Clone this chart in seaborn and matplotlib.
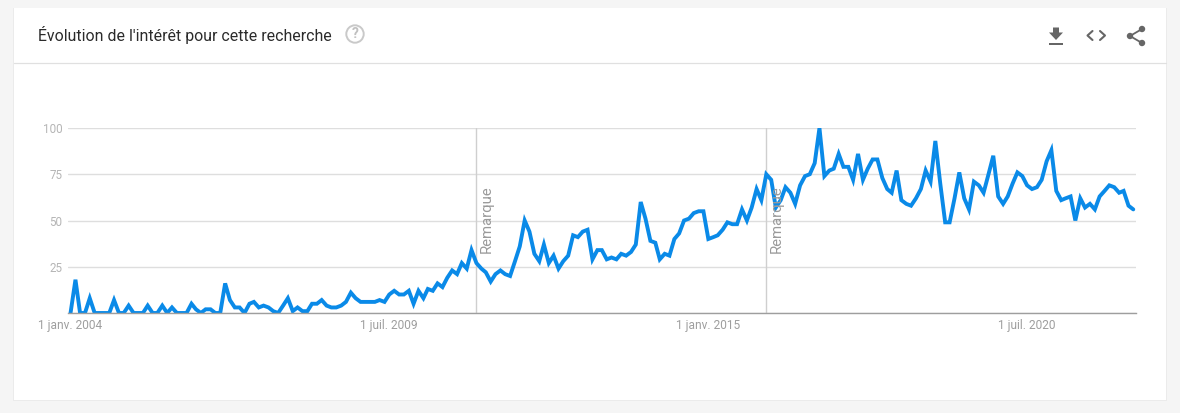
import pandas as pd
import matplotlib.pyplot as plt
import matplotlib.patches as mpatches
from matplotlib.transforms import offset_copy
import seaborn as sns

title = "Évolution de l'intérêt pour cette recherche"
interest = [
    0, 18, 0, 0, 8, 0, 0, 0, 0, 7, 0, 0,
    4, 0, 0, 0, 4, 0, 0, 4, 0, 3, 0, 0,
    0, 5, 2, 0, 2, 2, 0, 0, 16, 7, 3, 3,
    0, 5, 6, 3, 4, 3, 1, 0, 4, 8, 1, 3,
    1, 1, 5, 5, 7, 4, 3, 3, 4, 6, 11, 8,
    6, 6, 6, 6, 7, 6, 10, 12, 10, 10, 12, 5,
    12, 8, 13, 12, 16, 14, 19, 23, 21, 27, 24, 34,
    27, 24, 22, 17, 21, 23, 21, 20, 28, 36, 50, 44,
    32, 28, 37, 27, 31, 24, 28, 31, 42, 41, 44, 45,
    29, 34, 34, 29, 30, 29, 32, 31, 33, 37, 60, 51,
    39, 38, 29, 32, 31, 40, 43, 50, 51, 54, 55, 55,
    40, 41, 42, 45, 49, 48, 48, 56, 50, 57, 67, 61,
    75, 72, 57, 61, 68, 65, 59, 69, 74, 75, 81, 100,
    74, 77, 78, 86, 79, 79, 72, 86, 72, 78, 83, 83,
    73, 67, 65, 77, 61, 59, 58, 62, 67, 77, 71, 93,
    70, 49, 49, 62, 76, 62, 56, 71, 69, 65, 75, 85,
    63, 59, 63, 70, 76, 74, 69, 67, 68, 72, 82, 88,
    66, 61, 62, 63, 50, 62, 57, 59, 56, 63, 66, 69,
    68, 65, 66, 58, 56,
]
y_ticks = [0, 25, 50, 75, 100]
y_labels = ['', '25', '50', '75', '100']
x_ticks = ['2004-01-01', '2009-07-01', '2015-01-01', '2020-07-01']
x_labels = ['1 janv. 2004', '1 juil. 2009', '1 janv. 2015', '1 juil. 2020']
notes = ['2011-01-01', '2016-01-01']

df = pd.DataFrame({'date': pd.date_range('2004-01-01', periods=len(interest), freq='MS'),
                   'interest': interest})

sns.set_style('white')
plt.rcParams['font.family'] = ['Roboto', 'DejaVu Sans']

W, H = 1180, 413
fig = plt.figure(figsize=(W / 100, H / 100), dpi=100, facecolor='#f5f5f5')

# card and header, in pixels
bg = fig.add_axes([0, 0, 1, 1], zorder=0)
bg.set_xlim(0, W)
bg.set_ylim(H, 0)
bg.axis('off')
bg.add_patch(mpatches.Rectangle((13, 8), 1154, 393, fc='#ebebeb', ec='none'))
bg.add_patch(mpatches.Rectangle((14, 8), 1152, 392, fc='white', ec='none'))
bg.plot([14, 1166], [63, 63], color='#e0e0e0', lw=0.9)
bg.text(38, 35, title, fontsize=11.45, color='#2b2b2b', va='center', ha='left')
bg.add_patch(mpatches.Circle((355, 34), 8.7, fc='none', ec='#c9c9c9', lw=1.4))
bg.text(355, 34.5, '?', fontsize=10, color='#c0c0c0', ha='center', va='center', fontweight='bold')

# toolbar icons
icon = '#666666'
bg.add_patch(mpatches.Polygon([[1053, 27.5], [1059, 27.5], [1059, 32.5], [1063, 32.5], [1056, 40], [1049, 32.5], [1053, 32.5]],
                              fc=icon, ec='none'))
bg.add_patch(mpatches.Rectangle((1049, 43), 14, 2, fc=icon, ec='none'))
bg.plot([1092.5, 1087.5, 1092.5], [31, 35.5, 40], color=icon, lw=1.5)
bg.plot([1100, 1105, 1100], [31, 35.5, 40], color=icon, lw=1.5)
bg.plot([1142, 1130, 1142], [29, 36, 43], color=icon, lw=1.3)
for cx, cy in [(1142, 29), (1130, 36), (1142, 43)]:
    bg.add_patch(mpatches.Circle((cx, cy), 3.2, fc=icon, ec='none'))

# chart, pixel box 68..1136 x 128..313
ax = fig.add_axes([68 / W, 1 - 313 / H, (1135.5 - 68) / W, 185 / H], zorder=1)
ax.patch.set_alpha(0)
sns.lineplot(data=df, x='date', y='interest', ax=ax, color='#0a8ae8', linewidth=2.8,
             estimator=None, errorbar=None)
ax.lines[0].set_solid_joinstyle('miter')
start = df['date'].iloc[0]
ax.set_xlim(start - pd.Timedelta(days=16), start + pd.Timedelta(days=6709))
ax.set_ylim(0, 100)
ax.set_xlabel('')
ax.set_ylabel('')
ax.set_yticks(y_ticks)
ax.set_yticklabels(y_labels, fontsize=8.4, color='#b5b5b5')
ax.set_xticks(pd.to_datetime(x_ticks))
ax.set_xticklabels(x_labels, fontsize=8.6, color='#9e9e9e')
ax.tick_params(axis='both', length=0)
ax.tick_params(axis='x', pad=4)
ax.tick_params(axis='y', pad=4)
ax.grid(axis='y', color='#dedede', lw=1)
ax.set_axisbelow(True)
sns.despine(ax=ax, left=True)
ax.spines['bottom'].set_color('#9e9e9e')
ax.spines['bottom'].set_linewidth(1)

trans = offset_copy(ax.get_xaxis_transform(), fig=fig, x=10.5, y=0, units='dots')
for d in notes:
    ax.axvline(pd.Timestamp(d), color='#cfcfcf', lw=1, zorder=1)
    ax.text(pd.Timestamp(d), 0.325, 'Remarque', transform=trans, rotation=90, fontsize=10.7,
            color='#9a9a9a', ha='center', va='bottom', zorder=5)

fig.savefig('out.png', dpi=100, facecolor=fig.get_facecolor())
